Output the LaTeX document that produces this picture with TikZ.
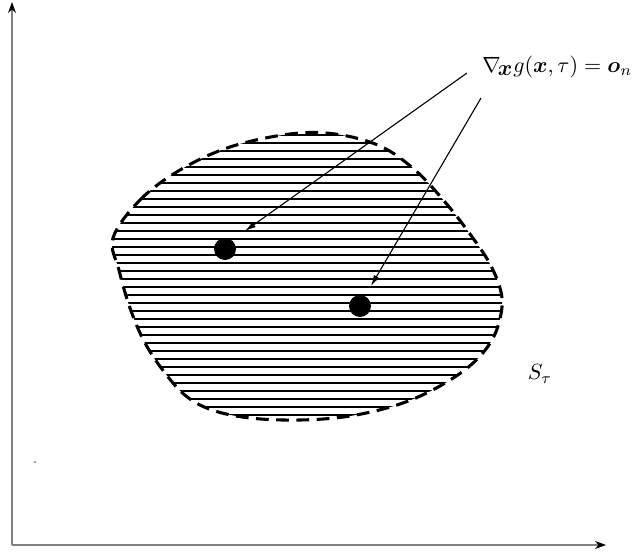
\documentclass[tikz,border=0pt]{standalone}
\usepackage{amsmath,bm}
\usetikzlibrary{arrows.meta}
\begin{document}
\begin{tikzpicture}[x=0.4545pt,y=-0.4545pt,
  axis/.style={draw=gray, line width=0.5pt, -{Stealth[black,length=5pt,width=3.6pt]}},
  hatchline/.style={draw=black, line width=0.9pt},
  boundary/.style={draw=black, line width=1.4pt, dash pattern=on 5.8pt off 3.4pt},
  dot/.style={circle, fill=black, inner sep=0pt, minimum size=10pt},
  pointer/.style={draw=black, line width=0.5pt, -{Latex[length=5pt,width=2.8pt]}},
  lbl/.style={inner sep=0pt}]
\useasboundingbox (0,0) rectangle (638,553);
% axes
\coordinate (o) at (12,545);
\coordinate (ytip) at (12,2);
\coordinate (xtip) at (606,545);
\draw[axis] (o) -- (ytip);
\draw[axis] (o) -- (xtip);
% hatched region
\begin{scope}
\clip plot[smooth cycle, tension=0.6] coordinates {(113,238) (140,200) (180,170) (230,147) (290,134) (335,134) (380,146) (415,170) (445,202) (470,234) (490,264) (501,292) (501,314) (492,340) (472,364) (440,386) (400,404) (350,416) (300,420) (250,418) (212,410) (186,396) (165,373) (145,343) (130,308) (119,270)};
\foreach \yy in {135,143,...,423} \draw[hatchline] (100,\yy) -- (520,\yy);
\end{scope}
\draw[boundary] plot[smooth cycle, tension=0.6] coordinates {(113,238) (140,200) (180,170) (230,147) (290,134) (335,134) (380,146) (415,170) (445,202) (470,234) (490,264) (501,292) (501,314) (492,340) (472,364) (440,386) (400,404) (350,416) (300,420) (250,418) (212,410) (186,396) (165,373) (145,343) (130,308) (119,270)};
% points
\node[dot] (p1) at (225,249) {};
\node[dot] (p2) at (360,306) {};
% label and pointers
\node[lbl, anchor=base west] (lab) at (482,72) {$\nabla_{\!\textstyle\boldsymbol{x}} g(\boldsymbol{x},\tau)=\boldsymbol{o}_n$};
\coordinate (s1) at (467,73);
\coordinate (e1) at (245,231);
\coordinate (s2) at (481,98);
\coordinate (e2) at (371,286);
\draw[pointer] (s1) -- (e1);
\draw[pointer] (s2) -- (e2);
\node[lbl] (st) at (540,374) {$S_\tau$};
% tiny speck
\fill[gray] (35,462) circle (0.5pt);
\end{tikzpicture}
\end{document}
